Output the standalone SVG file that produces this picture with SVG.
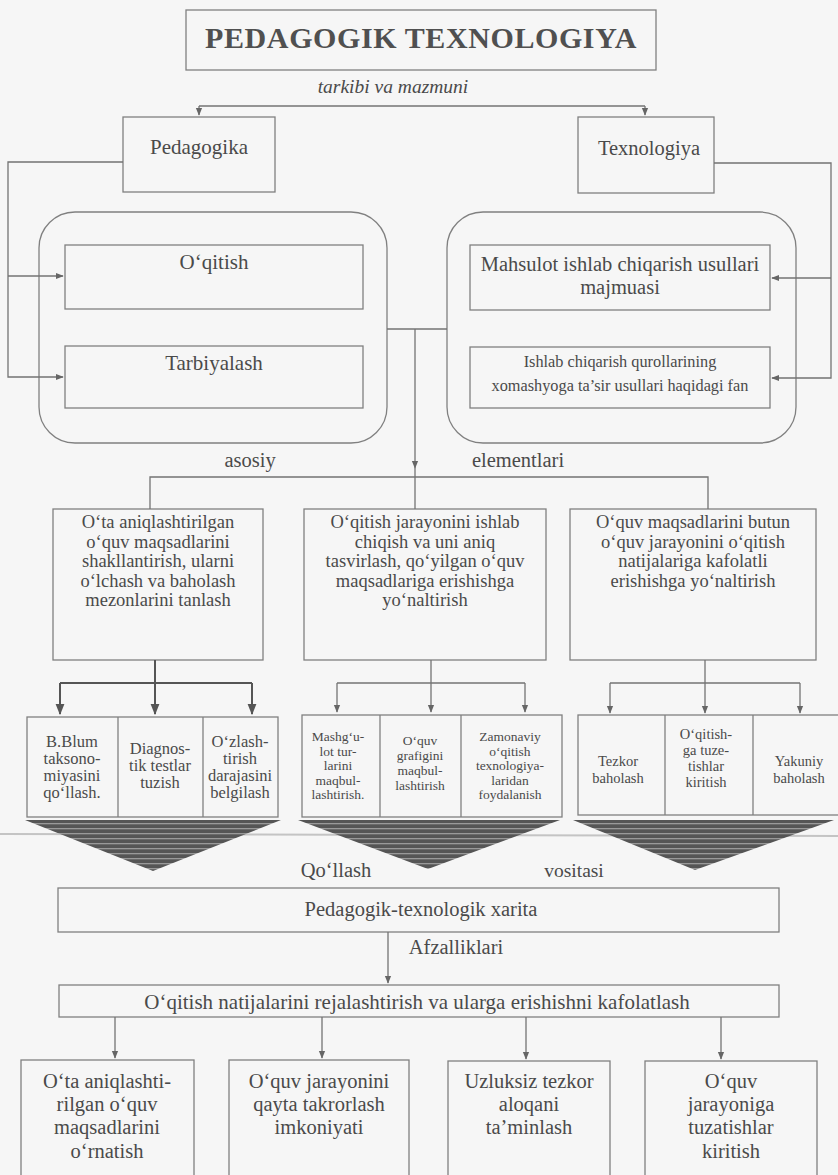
<svg xmlns="http://www.w3.org/2000/svg" width="838" height="1175" viewBox="0 0 838 1175">
<defs>
<style>
.bx{fill:none;stroke:#808080;stroke-width:1.3}
.cn{fill:none;stroke:#737373;stroke-width:1.3}
.cd{fill:none;stroke:#555;stroke-width:2}
.t{font-family:"Liberation Serif","Times New Roman",serif;fill:#4a4a4a;text-anchor:middle}
.f20{font-size:20.5px}
.fb{font-size:18.5px}
.f17{font-size:16.5px}
.f15{font-size:13.5px}
.f16{font-size:16.3px}
.f14{font-size:14.5px}
</style>
<marker id="ah" viewBox="0 0 10 10" refX="9" refY="5" markerWidth="8" markerHeight="8" markerUnits="userSpaceOnUse" orient="auto">
<path d="M0,1 L10,5 L0,9 Z" fill="#666"/>
</marker>
<marker id="ahd" viewBox="0 0 10 10" refX="9" refY="5" markerWidth="11" markerHeight="11" markerUnits="userSpaceOnUse" orient="auto">
<path d="M0,1 L10,5 L0,9 Z" fill="#555"/>
</marker>
<pattern id="stripes" width="8" height="5" patternUnits="userSpaceOnUse">
<rect width="8" height="5" fill="#555"/>
<rect y="3" width="8" height="1.3" fill="#999"/>
</pattern>
</defs>
<rect width="838" height="1175" fill="#f6f6f6"/>
<line x1="0" y1="834" x2="838" y2="836" stroke="#c4c4c4" stroke-width="2"/>

<g id="title">
<rect class="bx" x="186" y="10" width="470" height="60"/>
<text class="t" x="421" y="48" style="font-size:30px;font-weight:bold;letter-spacing:0.6px;fill:#505050">PEDAGOGIK TEXNOLOGIYA</text>
</g>
<text class="t" x="393" y="93" font-style="italic" style="font-size:19.5px">tarkibi va mazmuni</text>

<g id="pedagogika">
<rect class="bx" x="123" y="117" width="152" height="75"/>
<text class="t" x="199" y="154" style="font-size:21px">Pedagogika</text>
</g>
<g id="texnologiya">
<rect class="bx" x="578" y="117" width="136" height="76"/>
<text class="t" x="649" y="155" style="font-size:20.5px">Texnologiya</text>
</g>

<g id="left-group">
<rect class="bx" x="39" y="212" width="348" height="231" rx="36"/>
</g>
<g id="oqitish">
<rect class="bx" x="65" y="245" width="298" height="64"/>
<text class="t" x="214" y="269" style="font-size:21px">O‘qitish</text>
</g>
<g id="tarbiyalash">
<rect class="bx" x="65" y="346" width="298" height="62"/>
<text class="t" x="214" y="370" style="font-size:21px">Tarbiyalash</text>
</g>

<g id="right-group">
<rect class="bx" x="447" y="212" width="349" height="231" rx="36"/>
</g>
<g id="mahsulot">
<rect class="bx" x="470" y="245" width="300" height="65"/>
<text class="t f20" x="620" y="271">Mahsulot ishlab chiqarish usullari</text>
<text class="t f20" x="620" y="294">majmuasi</text>
</g>
<g id="ishlab">
<rect class="bx" x="470" y="347" width="300" height="61"/>
<text class="t f16" x="620" y="367">Ishlab chiqarish qurollarining</text>
<text class="t f16" x="620" y="391">xomashyoga ta’sir usullari haqidagi fan</text>
</g>

<text class="t f20" x="250" y="467">asosiy</text>
<text class="t f20" x="518" y="467">elementlari</text>

<g id="box1">
<rect class="bx" x="53" y="509" width="210" height="151"/>
<text class="t fb" x="158" y="528">O‘ta aniqlashtirilgan</text>
<text class="t fb" x="158" y="547.5">o‘quv maqsadlarini</text>
<text class="t fb" x="158" y="567">shakllantirish, ularni</text>
<text class="t fb" x="158" y="586.5">o‘lchash va baholash</text>
<text class="t fb" x="158" y="606">mezonlarini tanlash</text>
</g>
<g id="box2">
<rect class="bx" x="304" y="509" width="242" height="151"/>
<text class="t fb" x="425" y="528">O‘qitish jarayonini ishlab</text>
<text class="t fb" x="425" y="547.5">chiqish va uni aniq</text>
<text class="t fb" x="425" y="567">tasvirlash, qo‘yilgan o‘quv</text>
<text class="t fb" x="425" y="586.5">maqsadlariga erishishga</text>
<text class="t fb" x="425" y="606">yo‘naltirish</text>
</g>
<g id="box3">
<rect class="bx" x="570" y="509" width="246" height="151"/>
<text class="t fb" x="693" y="528">O‘quv maqsadlarini butun</text>
<text class="t fb" x="693" y="547.5">o‘quv jarayonini o‘qitish</text>
<text class="t fb" x="693" y="567">natijalariga kafolatli</text>
<text class="t fb" x="693" y="586.5">erishishga yo‘naltirish</text>
</g>

<g id="tri1">
<rect class="bx" x="27" y="717" width="251" height="100"/>
<line class="bx" x1="118" y1="717" x2="118" y2="817"/>
<line class="bx" x1="203" y1="717" x2="203" y2="817"/>
<text class="t f17" x="72" y="747">B.Blum</text>
<text class="t f17" x="72" y="764">taksono-</text>
<text class="t f17" x="72" y="781">miyasini</text>
<text class="t f17" x="72" y="798">qo‘llash.</text>
<text class="t f17" x="160" y="754">Diagnos-</text>
<text class="t f17" x="160" y="771">tik testlar</text>
<text class="t f17" x="160" y="788">tuzish</text>
<text class="t f17" x="240" y="747">O‘zlash-</text>
<text class="t f17" x="240" y="764">tirish</text>
<text class="t f17" x="240" y="781">darajasini</text>
<text class="t f17" x="240" y="798">belgilash</text>
<polygon points="25,820 281,820 153,871" fill="url(#stripes)"/>
</g>
<g id="tri2">
<rect class="bx" x="302" y="715" width="260" height="102"/>
<line class="bx" x1="380" y1="715" x2="380" y2="817"/>
<line class="bx" x1="461" y1="715" x2="461" y2="817"/>
<text class="t f15" x="338" y="741">Mashg‘u-</text>
<text class="t f15" x="338" y="755.5">lot tur-</text>
<text class="t f15" x="338" y="770">larini</text>
<text class="t f15" x="338" y="784.5">maqbul-</text>
<text class="t f15" x="338" y="799">lashtirish.</text>
<text class="t f15" x="420" y="745">O‘quv</text>
<text class="t f15" x="420" y="760">grafigini</text>
<text class="t f15" x="420" y="775">maqbul-</text>
<text class="t f15" x="420" y="790">lashtirish</text>
<text class="t f15" x="510" y="741">Zamonaviy</text>
<text class="t f15" x="510" y="755.5">o‘qitish</text>
<text class="t f15" x="510" y="770">texnologiya-</text>
<text class="t f15" x="510" y="784.5">laridan</text>
<text class="t f15" x="510" y="799">foydalanish</text>
<polygon points="298,820 560,820 428,869" fill="url(#stripes)"/>
</g>
<g id="tri3">
<rect class="bx" x="578" y="715" width="262" height="100"/>
<line class="bx" x1="665" y1="715" x2="665" y2="815"/>
<line class="bx" x1="753" y1="715" x2="753" y2="815"/>
<text class="t f14" x="618" y="766">Tezkor</text>
<text class="t f14" x="618" y="783">baholash</text>
<text class="t f14" x="706" y="739">O‘qitish-</text>
<text class="t f14" x="706" y="755">ga tuze-</text>
<text class="t f14" x="706" y="771">tishlar</text>
<text class="t f14" x="706" y="787">kiritish</text>
<text class="t f14" x="799" y="766">Yakuniy</text>
<text class="t f14" x="799" y="783">baholash</text>
<polygon points="573,820 834,820 695,870" fill="url(#stripes)"/>
</g>

<text class="t f20" x="336" y="877">Qo‘llash</text>
<text class="t" x="574" y="877" style="font-size:19.5px">vositasi</text>

<g id="xarita">
<rect class="bx" x="58" y="888" width="721" height="44"/>
<text class="t f20" x="421" y="916">Pedagogik-texnologik xarita</text>
</g>
<text class="t f20" x="456" y="954">Afzalliklari</text>
<g id="natija">
<rect class="bx" x="59" y="985" width="720" height="32"/>
<text class="t" x="417" y="1009" style="font-size:21px">O‘qitish natijalarini rejalashtirish va ularga erishishni kafolatlash</text>
</g>

<g id="b1">
<rect class="bx" x="21" y="1060" width="173" height="125"/>
<text class="t f20" x="107" y="1088">O‘ta aniqlashti-</text>
<text class="t f20" x="107" y="1111">rilgan o‘quv</text>
<text class="t f20" x="107" y="1134">maqsadlarini</text>
<text class="t f20" x="107" y="1158">o‘rnatish</text>
</g>
<g id="b2">
<rect class="bx" x="229" y="1060" width="180" height="125"/>
<text class="t f20" x="319" y="1088">O‘quv jarayonini</text>
<text class="t f20" x="319" y="1111">qayta takrorlash</text>
<text class="t f20" x="319" y="1134">imkoniyati</text>
</g>
<g id="b3">
<rect class="bx" x="448" y="1061" width="162" height="124"/>
<text class="t f20" x="529" y="1088">Uzluksiz tezkor</text>
<text class="t f20" x="529" y="1111">aloqani</text>
<text class="t f20" x="529" y="1134">ta’minlash</text>
</g>
<g id="b4">
<rect class="bx" x="645" y="1061" width="172" height="124"/>
<text class="t f20" x="731" y="1088">O‘quv</text>
<text class="t f20" x="731" y="1111">jarayoniga</text>
<text class="t f20" x="731" y="1134">tuzatishlar</text>
<text class="t f20" x="731" y="1158">kiritish</text>
</g>

<g id="connectors">
<line class="cn" x1="199" y1="106" x2="645" y2="106"/>
<line class="cn" x1="199" y1="106" x2="199" y2="115" marker-end="url(#ah)"/>
<line class="cn" x1="645" y1="106" x2="645" y2="115" marker-end="url(#ah)"/>
<polyline class="cn" points="123,162 8,162 8,377 63,377" marker-end="url(#ah)"/>
<line class="cn" x1="8" y1="276" x2="63" y2="276" marker-end="url(#ah)"/>
<polyline class="cn" points="714,163 831,163 831,378 772,378" marker-end="url(#ah)"/>
<line class="cn" x1="831" y1="278" x2="772" y2="278" marker-end="url(#ah)"/>
<line class="cn" x1="387" y1="329" x2="447" y2="329"/>
<line class="cn" x1="415" y1="329" x2="415" y2="468" marker-end="url(#ah)"/>
<line class="cn" x1="415" y1="468" x2="415" y2="509"/>
<polyline class="cn" points="150,509 150,477 708,477 708,509"/>

<line class="cd" x1="155" y1="660" x2="155" y2="683"/>
<line class="cd" x1="60" y1="683" x2="252" y2="683"/>
<line class="cd" x1="60" y1="683" x2="60" y2="714" marker-end="url(#ahd)"/>
<line class="cd" x1="155" y1="683" x2="155" y2="714" marker-end="url(#ahd)"/>
<line class="cd" x1="252" y1="683" x2="252" y2="714" marker-end="url(#ahd)"/>

<line class="cn" x1="431" y1="660" x2="431" y2="683"/>
<line class="cn" x1="337" y1="683" x2="525" y2="683"/>
<line class="cn" x1="337" y1="683" x2="337" y2="712" marker-end="url(#ah)"/>
<line class="cn" x1="431" y1="683" x2="431" y2="712" marker-end="url(#ah)"/>
<line class="cn" x1="525" y1="683" x2="525" y2="712" marker-end="url(#ah)"/>

<line class="cn" x1="705" y1="660" x2="705" y2="683"/>
<line class="cn" x1="610" y1="683" x2="800" y2="683"/>
<line class="cn" x1="610" y1="683" x2="610" y2="713" marker-end="url(#ah)"/>
<line class="cn" x1="705" y1="683" x2="705" y2="713" marker-end="url(#ah)"/>
<line class="cn" x1="800" y1="683" x2="800" y2="713" marker-end="url(#ah)"/>

<line class="cn" x1="388" y1="932" x2="388" y2="983" marker-end="url(#ah)"/>
<line class="cn" x1="115" y1="1017" x2="115" y2="1058" marker-end="url(#ah)"/>
<line class="cn" x1="322" y1="1017" x2="322" y2="1058" marker-end="url(#ah)"/>
<line class="cn" x1="526" y1="1017" x2="526" y2="1059" marker-end="url(#ah)"/>
<line class="cn" x1="721" y1="1017" x2="721" y2="1059" marker-end="url(#ah)"/>
</g>
</svg>
